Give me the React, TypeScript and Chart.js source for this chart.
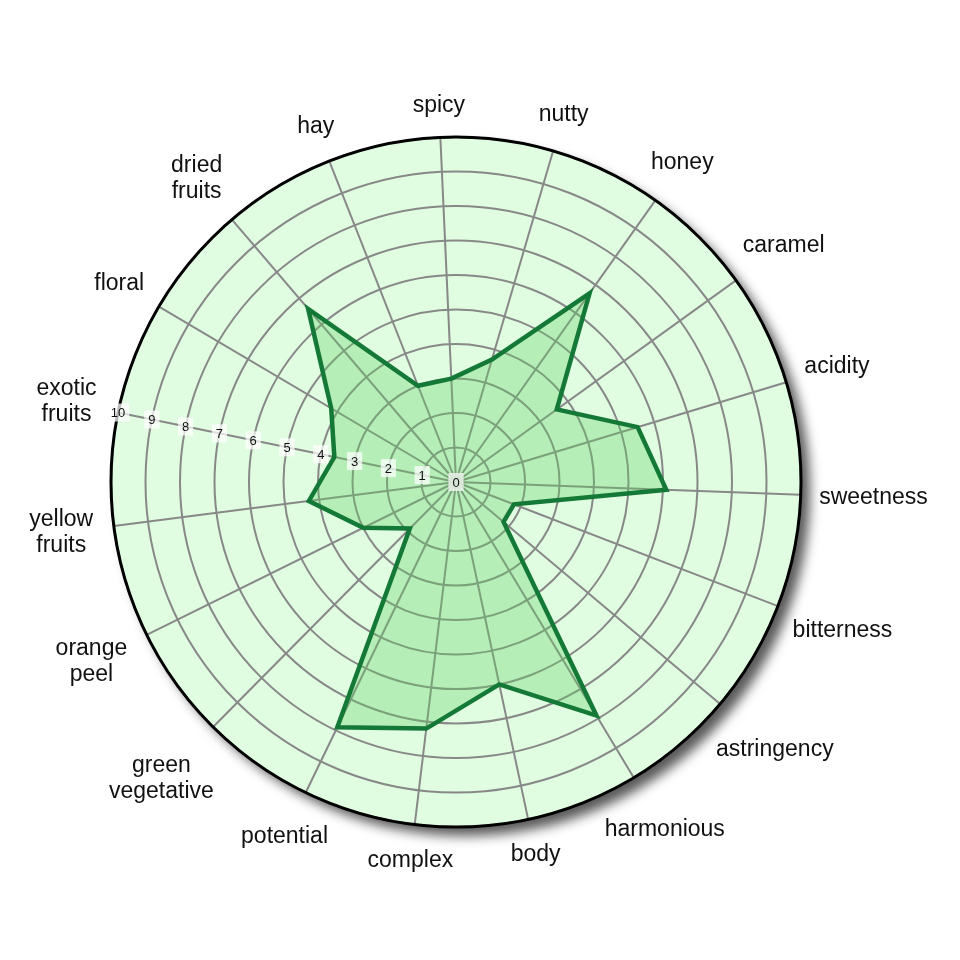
import React, { useEffect, useRef } from "react";
import { Chart, registerables } from "chart.js";

Chart.register(...registerables);

const categories: (string | string[])[] = [
  "spicy",
  "nutty",
  "honey",
  "caramel",
  "acidity",
  "sweetness",
  "bitterness",
  "astringency",
  "harmonious",
  "body",
  "complex",
  "potential",
  ["green", "vegetative"],
  ["orange", "peel"],
  ["yellow", "fruits"],
  ["exotic", "fruits"],
  "floral",
  ["dried", "fruits"],
  "hay",
];

const scores = [3.0, 3.7, 6.7, 3.6, 5.5, 6.1, 1.8, 1.8, 7.9, 6.0, 7.2, 7.9, 1.9, 3.0, 4.3, 3.6, 4.2, 6.6, 3.0];

const tickValues = [0, 1, 2, 3, 4, 5, 6, 7, 8, 9, 10];
const tickAxisIndex = 15; // ticks are drawn along "exotic fruits"

const FONT = 'Arial, "Liberation Sans", sans-serif';
const LABEL_SIZE = 23;
const LABEL_LINE = 26;
const LABEL_PAD = 18;

const radarDecor = {
  id: "radarDecor",
  beforeDraw(chart: any) {
    const s = chart.scales.r;
    const ctx = chart.ctx;
    ctx.save();
    ctx.shadowColor = "rgba(0,0,0,0.65)";
    ctx.shadowBlur = 12;
    ctx.shadowOffsetX = 9;
    ctx.shadowOffsetY = 9;
    ctx.beginPath();
    ctx.arc(s.xCenter, s.yCenter, s.drawingArea, 0, Math.PI * 2);
    ctx.fillStyle = "#e0fde2";
    ctx.fill();
    ctx.restore();
  },
  afterDraw(chart: any) {
    const s = chart.scales.r;
    const ctx = chart.ctx;
    ctx.save();
    ctx.beginPath();
    ctx.arc(s.xCenter, s.yCenter, s.drawingArea, 0, Math.PI * 2);
    ctx.strokeStyle = "#000";
    ctx.lineWidth = 3;
    ctx.stroke();

    // category labels placed just outside the circle along each spoke
    ctx.font = `${LABEL_SIZE}px ${FONT}`;
    ctx.textAlign = "center";
    ctx.textBaseline = "middle";
    ctx.fillStyle = "#111";
    const labels: any[] = chart.data.labels;
    labels.forEach((lab, i) => {
      const lines: string[] = Array.isArray(lab) ? lab : [lab];
      const w = Math.max(...lines.map((l) => ctx.measureText(l).width));
      const h = lines.length * LABEL_LINE;
      const ang = s.getIndexAngle(i); // clockwise from top
      const sx = Math.sin(ang);
      const cy = Math.cos(ang);
      const dist = s.drawingArea + LABEL_PAD + (w / 2) * Math.abs(sx) + (h / 2) * Math.abs(cy);
      const p = s.getPointPosition(i, dist);
      lines.forEach((l, k) => {
        ctx.fillText(l, p.x, p.y - ((lines.length - 1) * LABEL_LINE) / 2 + k * LABEL_LINE);
      });
    });

    // tick labels along one spoke
    ctx.font = `13px ${FONT}`;
    tickValues.forEach((v) => {
      const p = s.getPointPosition(tickAxisIndex, s.getDistanceFromCenterForValue(v));
      const label = String(v);
      const w = ctx.measureText(label).width + 8;
      const h = 18;
      ctx.fillStyle = "rgba(255,255,255,0.72)";
      ctx.fillRect(p.x - w / 2, p.y - h / 2, w, h);
      ctx.fillStyle = "#111";
      ctx.fillText(label, p.x, p.y + 1);
    });
    ctx.restore();
  },
};

export default function App() {
  const ref = useRef<HTMLCanvasElement | null>(null);
  useEffect(() => {
    if (!ref.current) return;
    const chart = new Chart(ref.current, {
      type: "radar",
      data: {
        labels: categories as any,
        datasets: [
          {
            data: scores,
            backgroundColor: "rgba(100,210,100,0.35)",
            borderColor: "#147836",
            borderWidth: 4.5,
            pointRadius: 0,
            fill: true,
          },
        ],
      },
      options: {
        responsive: false,
        animation: false,
        plugins: { legend: { display: false }, tooltip: { enabled: false } },
        layout: { padding: { left: 111, right: 159, top: 137, bottom: 133 } },
        scales: {
          r: {
            min: 0,
            max: 10,
            startAngle: -2.6,
            ticks: { display: false, stepSize: 1 },
            grid: { circular: true, color: "#888", lineWidth: 2 },
            angleLines: { color: "#888", lineWidth: 2 },
            pointLabels: { display: false },
          },
        },
      },
      plugins: [radarDecor],
    });
    return () => chart.destroy();
  }, []);
  return (
    <div style={{ position: "absolute", left: 0, top: 0, width: 960, height: 960, background: "#fff" }}>
      <canvas ref={ref} width={960} height={960} />
    </div>
  );
}
